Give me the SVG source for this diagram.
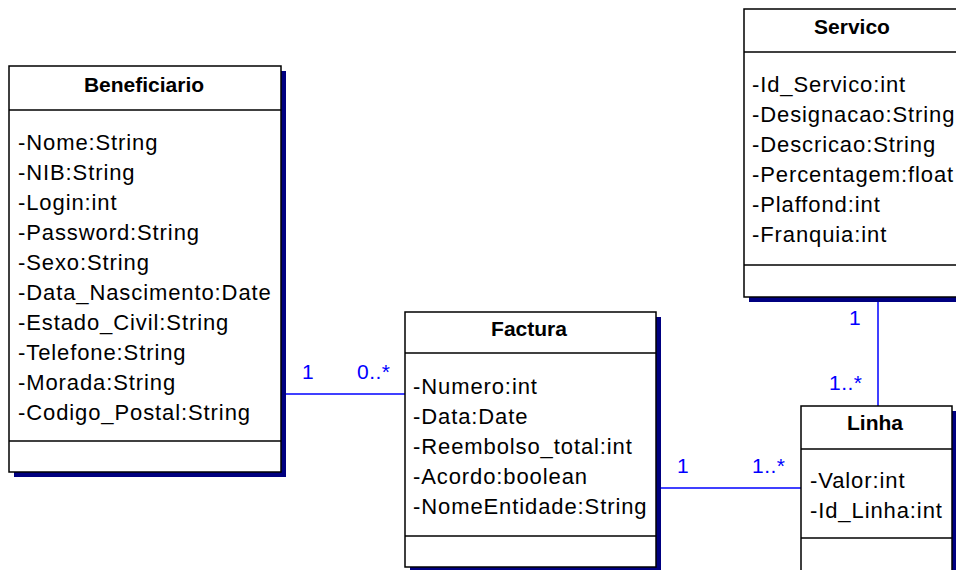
<svg xmlns="http://www.w3.org/2000/svg" width="956" height="570" viewBox="0 0 956 570">
<style>
.shadow{fill:#000080}
.box{fill:#fff;stroke:#000;stroke-width:1.5}
.sep{stroke:#000;stroke-width:1.5}
.title{font-family:"Liberation Sans",Arial,sans-serif;font-size:21px;font-weight:bold;text-anchor:middle;fill:#000}
.attr{font-family:"Liberation Sans",Arial,sans-serif;font-size:22px;letter-spacing:0.9px;fill:#000}
.conn{stroke:#0000ff;stroke-width:1.5;fill:none}
.mult{font-family:"Liberation Sans",Arial,sans-serif;font-size:21px;letter-spacing:0.5px;fill:#0000ff}
</style>
<rect width="956" height="570" fill="#fff"/>
<g id="connectors">
<line class="conn" x1="286" y1="394" x2="405" y2="394"/>
<line class="conn" x1="661" y1="488" x2="801" y2="488"/>
<line class="conn" x1="878" y1="302" x2="878" y2="406"/>
<text class="mult" x="302" y="379">1</text>
<text class="mult" x="357" y="379">0..*</text>
<text class="mult" x="677" y="473">1</text>
<text class="mult" x="752" y="473">1..*</text>
<text class="mult" x="849" y="325">1</text>
<text class="mult" x="829" y="390">1..*</text>
</g>
<g id="Beneficiario">
<rect class="shadow" x="14" y="71" width="272" height="406"/>
<rect class="box" x="9" y="66" width="272" height="406"/>
<line class="sep" x1="9" y1="110" x2="281" y2="110"/>
<line class="sep" x1="9" y1="441" x2="281" y2="441"/>
<text class="title" x="144" y="92">Beneficiario</text>
<text class="attr" x="18" y="150">-Nome:String</text>
<text class="attr" x="18" y="180">-NIB:String</text>
<text class="attr" x="18" y="210">-Login:int</text>
<text class="attr" x="18" y="240">-Password:String</text>
<text class="attr" x="18" y="270">-Sexo:String</text>
<text class="attr" x="18" y="300">-Data_Nascimento:Date</text>
<text class="attr" x="18" y="330">-Estado_Civil:String</text>
<text class="attr" x="18" y="360">-Telefone:String</text>
<text class="attr" x="18" y="390">-Morada:String</text>
<text class="attr" x="18" y="420">-Codigo_Postal:String</text>
</g>
<g id="Servico">
<rect class="shadow" x="749" y="14" width="220" height="288"/>
<rect class="box" x="744" y="9" width="216" height="288"/>
<line class="sep" x1="744" y1="52" x2="960" y2="52"/>
<line class="sep" x1="744" y1="265" x2="960" y2="265"/>
<text class="title" x="852" y="34">Servico</text>
<text class="attr" x="752" y="92">-Id_Servico:int</text>
<text class="attr" x="752" y="122">-Designacao:String</text>
<text class="attr" x="752" y="152">-Descricao:String</text>
<text class="attr" x="752" y="182">-Percentagem:float</text>
<text class="attr" x="752" y="212">-Plaffond:int</text>
<text class="attr" x="752" y="242">-Franquia:int</text>
</g>
<g id="Factura">
<rect class="shadow" x="410" y="317" width="251" height="256"/>
<rect class="box" x="405" y="312" width="251" height="255"/>
<line class="sep" x1="405" y1="353" x2="656" y2="353"/>
<line class="sep" x1="405" y1="536" x2="656" y2="536"/>
<text class="title" x="529" y="336">Factura</text>
<text class="attr" x="413" y="394">-Numero:int</text>
<text class="attr" x="413" y="424">-Data:Date</text>
<text class="attr" x="413" y="454">-Reembolso_total:int</text>
<text class="attr" x="413" y="484">-Acordo:boolean</text>
<text class="attr" x="413" y="514">-NomeEntidade:String</text>
</g>
<g id="Linha">
<rect class="shadow" x="806" y="411" width="151" height="200"/>
<rect class="box" x="801" y="406" width="151" height="200"/>
<line class="sep" x1="801" y1="449" x2="952" y2="449"/>
<line class="sep" x1="801" y1="538" x2="952" y2="538"/>
<text class="title" x="875" y="430">Linha</text>
<text class="attr" x="810" y="488">-Valor:int</text>
<text class="attr" x="810" y="518">-Id_Linha:int</text>
</g>
</svg>
